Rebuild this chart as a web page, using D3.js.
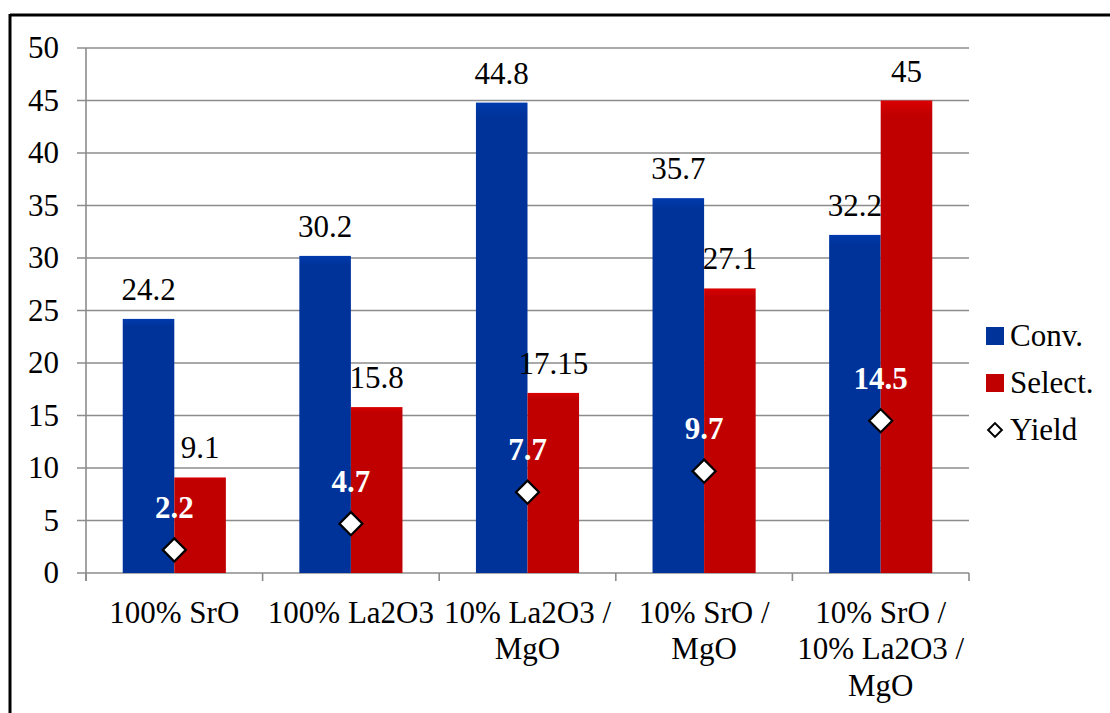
<!DOCTYPE html>
<html>
<head>
<meta charset="utf-8">
<script src="https://cdn.jsdelivr.net/npm/d3@7"></script>
<style>
  html, body { margin: 0; padding: 0; background: #fff; }
  svg { display: block; }
</style>
</head>
<body>
<svg id="chart" width="1110" height="713"></svg>
<script>
// Catalyst composition and performance data
const categories = [
  ["100% SrO"],
  ["100% La2O3"],
  ["10% La2O3 /", "MgO"],
  ["10% SrO /", "MgO"],
  ["10% SrO /", "10% La2O3 /", "MgO"]
];
const conversion = [24.2, 30.2, 44.8, 35.7, 32.2];
const selectivity = [9.1, 15.8, 17.15, 27.1, 45];
const yieldValues = [2.2, 4.7, 7.7, 9.7, 14.5];
const yTicks = [0, 5, 10, 15, 20, 25, 30, 35, 40, 45, 50];
const seriesNames = ["Conv.", "Select.", "Yield"];
const colors = { conv: "#003399", sel: "#C00000" };

const FONT = "Liberation Serif";
const FS = 31;
const svg = d3.select("#chart");

// outer frame (top and left edges)
svg.append("line").attr("x1", 10).attr("x2", 1110).attr("y1", 15).attr("y2", 15)
  .attr("stroke", "#000").attr("stroke-width", 3);
svg.append("line").attr("x1", 10).attr("x2", 10).attr("y1", 14).attr("y2", 713)
  .attr("stroke", "#000").attr("stroke-width", 3);

const plotLeft = 86, plotRight = 969, plotTop = 48, plotBottom = 573;
const idx = d3.range(categories.length);

const x = d3.scaleBand().domain(idx).range([plotLeft, plotRight]).padding(0);
const y = d3.scaleLinear().domain([0, 50]).range([plotBottom, plotTop]);
const barW = x.bandwidth() * 0.292;

const gridColor = "#8c8c8c";

// horizontal gridlines with outward ticks
svg.append("g").selectAll("line").data(yTicks).join("line")
  .attr("x1", plotLeft - 9).attr("x2", plotRight)
  .attr("y1", d => y(d)).attr("y2", d => y(d))
  .attr("stroke", gridColor).attr("stroke-width", 1.6);

// y tick labels
svg.append("g").selectAll("text").data(yTicks).join("text")
  .attr("x", 59).attr("y", d => y(d)).attr("dy", "0.33em")
  .attr("text-anchor", "end").attr("font-size", FS).attr("fill", "#000")
  .attr("font-family", FONT)
  .text(d => d);

// y axis line
svg.append("line").attr("x1", plotLeft).attr("x2", plotLeft).attr("y1", plotTop).attr("y2", plotBottom + 8)
  .attr("stroke", gridColor).attr("stroke-width", 1.6);

// category tick marks
const bounds = idx.map(i => x(i)).concat([plotRight]);
svg.append("g").selectAll("line").data(bounds).join("line")
  .attr("x1", d => d).attr("x2", d => d).attr("y1", plotBottom).attr("y2", plotBottom + 8)
  .attr("stroke", gridColor).attr("stroke-width", 1.6);

// bars
const defs = svg.append("defs");
function grad(id, base) {
  const g = defs.append("linearGradient").attr("id", id).attr("x1", 0).attr("x2", 0).attr("y1", 0).attr("y2", 1);
  g.append("stop").attr("offset", "0%").attr("stop-color", d3.color(base).brighter(0.35));
  g.append("stop").attr("offset", "3%").attr("stop-color", base);
  g.append("stop").attr("offset", "100%").attr("stop-color", base);
}
grad("gConv", colors.conv);
grad("gSel", colors.sel);

const cx = i => x(i) + x.bandwidth() / 2;

svg.append("g").selectAll("rect").data(conversion).join("rect")
  .attr("x", (d, i) => cx(i) - barW).attr("width", barW)
  .attr("y", d => y(d)).attr("height", d => plotBottom - y(d))
  .attr("fill", "url(#gConv)");
svg.append("g").selectAll("rect").data(selectivity).join("rect")
  .attr("x", (d, i) => cx(i)).attr("width", barW)
  .attr("y", d => y(d)).attr("height", d => plotBottom - y(d))
  .attr("fill", "url(#gSel)");

// value labels above bars
svg.append("g").selectAll("text").data(conversion).join("text")
  .attr("x", (d, i) => cx(i) - barW / 2).attr("y", d => y(d) - 19)
  .attr("text-anchor", "middle").attr("font-size", FS).attr("fill", "#000")
  .attr("font-family", FONT)
  .text(d => d);
svg.append("g").selectAll("text").data(selectivity).join("text")
  .attr("x", (d, i) => cx(i) + barW / 2).attr("y", d => y(d) - 19)
  .attr("text-anchor", "middle").attr("font-size", FS).attr("fill", "#000")
  .attr("font-family", FONT)
  .text(d => d);

// yield markers
const diamond = d3.symbol().type(d3.symbolDiamond2).size(340);
svg.append("g").selectAll("path").data(yieldValues).join("path")
  .attr("transform", (d, i) => `translate(${cx(i)},${y(d)})`)
  .attr("d", diamond)
  .attr("fill", "#fff").attr("stroke", "#000").attr("stroke-width", 2.2);
svg.append("g").selectAll("text").data(yieldValues).join("text")
  .attr("x", (d, i) => cx(i)).attr("y", d => y(d) - 32)
  .attr("text-anchor", "middle").attr("font-size", FS).attr("font-weight", "bold")
  .attr("font-family", FONT)
  .attr("fill", "#fff").text(d => d);

// category labels
const catG = svg.append("g").selectAll("text").data(categories).join("text")
  .attr("x", (d, i) => cx(i)).attr("y", 622.5)
  .attr("text-anchor", "middle").attr("font-size", FS).attr("fill", "#000")
  .attr("font-family", FONT);
catG.selectAll("tspan").data(d => d).join("tspan")
  .attr("x", function () { return d3.select(this.parentNode).attr("x"); })
  .attr("dy", (d, j) => j === 0 ? 0 : 36.5)
  .text(d => d);

// legend
const legendY = [336, 383, 430];
const leg = svg.append("g");
leg.append("rect").attr("x", 986).attr("y", legendY[0] - 9).attr("width", 18).attr("height", 18).attr("fill", colors.conv);
leg.append("rect").attr("x", 986).attr("y", legendY[1] - 9).attr("width", 18).attr("height", 18).attr("fill", colors.sel);
leg.append("path").attr("transform", `translate(995,${legendY[2]})`)
  .attr("d", d3.symbol().type(d3.symbolDiamond2).size(120))
  .attr("fill", "#fff").attr("stroke", "#000").attr("stroke-width", 2);
leg.selectAll("text").data(seriesNames).join("text")
  .attr("x", 1010).attr("y", (d, i) => legendY[i]).attr("dy", "0.33em")
  .attr("font-size", FS).attr("fill", "#000").attr("font-family", FONT).text(d => d);
</script>
</body>
</html>
